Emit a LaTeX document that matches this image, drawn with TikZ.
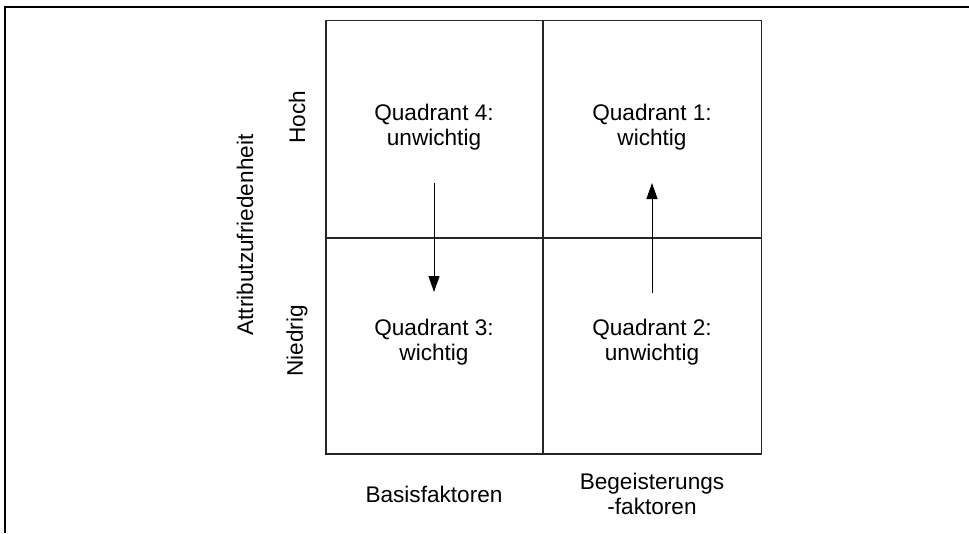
\documentclass[tikz,border=0pt]{standalone}
\usepackage{fontspec}
\setmainfont{Liberation Sans}
\usetikzlibrary{arrows.meta}
\begin{document}
\begin{tikzpicture}[x=1pt,y=-1pt,
  lbl/.style={font=\fontsize{22.6}{25}\selectfont, align=center, inner sep=0pt},
  gridline/.style={line width=1.3pt, draw=black!85},
  movearrow/.style={line width=1pt, -{Triangle[length=16pt,width=11pt]}}]
\useasboundingbox (0,0) rectangle (969,533);
% outer frame (top and left edges)
\draw[line width=2.4pt] (5,533) -- (5,7) -- (969,7);
% quadrant grid
\coordinate (tl) at (326,20.5);
\coordinate (br) at (761.5,454);
\draw[gridline] (tl) rectangle (br);
\draw[gridline] (543,20.5) -- (543,454);
\draw[gridline] (326,238) -- (761.5,238);
% quadrant texts
\node[lbl] (q4) at (434,127) {Quadrant 4:\\unwichtig};
\node[lbl] (q1) at (652,127) {Quadrant 1:\\wichtig};
\node[lbl] (q3) at (434,342) {Quadrant 3:\\wichtig};
\node[lbl] (q2) at (652,342) {Quadrant 2:\\unwichtig};
% axis labels
\node[lbl] (basis) at (434,494) {Basisfaktoren};
\node[lbl] (begeist) at (652,494) {Begeisterungs\\-faktoren};
\node[lbl, rotate=90] (attr) at (245,235) {Attributzufriedenheit};
\node[lbl, rotate=90] (hoch) at (297,117) {Hoch};
\node[lbl, rotate=90] (niedrig) at (297,341) {Niedrig};
% movement arrows
\coordinate (a4s) at (434,183);
\coordinate (a4e) at (434,292);
\coordinate (a1s) at (652,293);
\coordinate (a1e) at (652,183);
\draw[movearrow] (a4s) -- (a4e);
\draw[movearrow] (a1s) -- (a1e);
\end{tikzpicture}
\end{document}
